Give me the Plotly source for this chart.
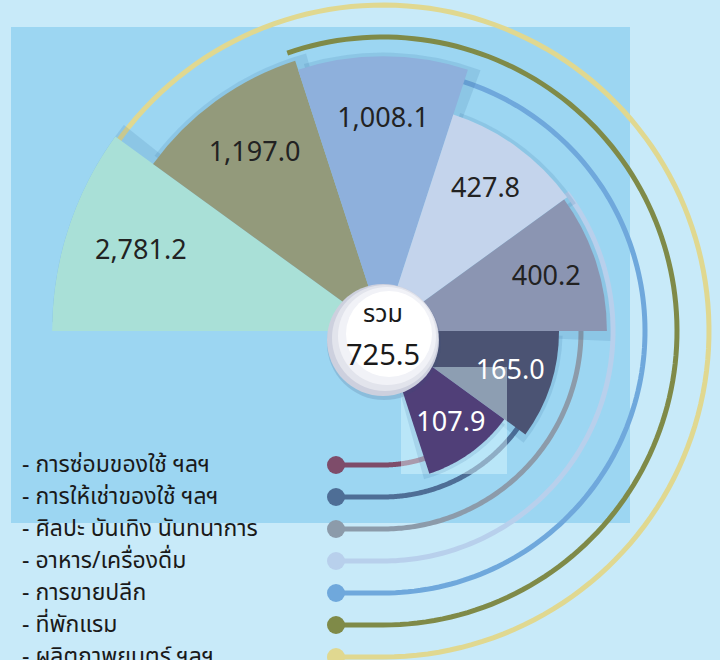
import numpy as np
import plotly.graph_objects as go

# ---------------- data ----------------
categories = [
    "ผลิตภาพยนตร์ ฯลฯ",
    "ที่พักแรม",
    "การขายปลีก",
    "อาหาร/เครื่องดื่ม",
    "ศิลปะ บันเทิง นันทนาการ",
    "การให้เช่าของใช้ ฯลฯ",
    "การซ่อมของใช้ ฯลฯ",
]
values = [2781.2, 1197.0, 1008.1, 427.8, 400.2, 165.0, 107.9]
value_labels = ["2,781.2", "1,197.0", "1,008.1", "427.8", "400.2", "165.0", "107.9"]
total_title = "รวม"
total_value = "725.5"

# ---------------- styling ----------------
bar_colors = ["#A9E0D7", "#939A7B", "#8EB0DC", "#C4D4EC", "#8B95B2", "#4B5373", "#503F78"]
label_colors = ["#222222", "#222222", "#222222", "#222222", "#222222", "#FFFFFF", "#FFFFFF"]
line_colors = ["#E0D890", "#7F8A48", "#6FA8DC", "#B8D0EC", "#8C9BAA", "#4E6E96", "#7E4C6A"]

FONT = "Noto Sans Thai, Noto Sans, DejaVu Sans, sans-serif"
W, H = 720, 660
R = 331                    # pixel radius of the polar subplot
CX, CY = 383, R            # pixel centre of the fan
STEP = 36                  # angular width of each wedge
SECTOR = [-83, 180]
HI = np.log10(max(values)) + 0.002
LO = 0.862
BASE = 10 ** LO
ROW0, ROWSTEP = 465, 32.0  # legend rows
DOT_X = 336
SHADOW = "rgba(40,95,150,0.13)"


def px(x):
    return x / W


def py(y):
    return 1 - y / H


def to_polar(x, y):
    dx, dy = x - CX, CY - y
    rp = np.hypot(dx, dy)
    return 10 ** (LO + rp / R * (HI - LO)), np.degrees(np.arctan2(dy, dx))


n = len(values)
theta = [180 - STEP / 2 - STEP * k for k in range(n)]
logv = np.log10(values)
label_r = 10 ** (LO + 0.77 * (logv - LO))
shadow_r = [v * 1.07 for v in values]
main = list(range(n - 1))
top = n - 1

fig = go.Figure()
# shadows + wedges (all but the last one)
fig.add_trace(go.Barpolar(
    r=[shadow_r[i] for i in main], theta=[theta[i] - 2 for i in main],
    width=[STEP + 1] * len(main), base=BASE,
    marker=dict(color=SHADOW, line=dict(width=0)), hoverinfo="skip",
))
fig.add_trace(go.Barpolar(
    r=[values[i] for i in main], theta=[theta[i] for i in main],
    width=[STEP] * len(main), base=BASE,
    marker=dict(color=[bar_colors[i] for i in main], line=dict(width=0)),
    hoverinfo="skip",
))

# translucent highlight box (lies between the wedges)
bx0, bx1, by0, by1 = 401, 507, 367, 474
edge = []
for t in np.linspace(0, 1, 30):
    edge.append((bx0 + t * (bx1 - bx0), by0))
for t in np.linspace(0, 1, 30):
    edge.append((bx1, by0 + t * (by1 - by0)))
for t in np.linspace(0, 1, 30):
    edge.append((bx1 - t * (bx1 - bx0), by1))
for t in np.linspace(0, 1, 30):
    edge.append((bx0, by1 - t * (by1 - by0)))
pr, pt = zip(*[to_polar(x, y) for x, y in edge])
fig.add_trace(go.Scatterpolar(
    r=list(pr), theta=list(pt), mode="lines", fill="toself",
    fillcolor="rgba(222,250,255,0.45)", line=dict(width=0), hoverinfo="skip",
))


# last wedge drawn above the box (filled polar polygon from its value)
def wedge(value, centre, width):
    arc = list(np.linspace(centre - width / 2, centre + width / 2, 50))
    return [BASE] + [value] * len(arc) + [BASE], [centre - width / 2] + arc + [centre + width / 2]


sr, st = wedge(shadow_r[top], theta[top] - 2, STEP + 1)
fig.add_trace(go.Scatterpolar(r=sr, theta=st, mode="lines", fill="toself",
                              fillcolor=SHADOW, line=dict(width=0), hoverinfo="skip"))
wr, wt = wedge(values[top], theta[top], STEP)
fig.add_trace(go.Scatterpolar(r=wr, theta=wt, mode="lines", fill="toself",
                              fillcolor=bar_colors[top], line=dict(width=0), hoverinfo="skip"))

fig.add_trace(go.Scatterpolar(
    r=label_r, theta=theta, mode="text", text=value_labels,
    textfont=dict(size=27, color=label_colors, family=FONT), hoverinfo="skip",
))

shapes = []
# inner background panel
shapes.append(dict(type="rect", xref="paper", yref="paper",
                   x0=px(11), x1=px(630), y0=py(523), y1=py(27),
                   fillcolor="#9CD6F2", line=dict(width=0), layer="below"))

annotations = []
for k in range(n):
    j = n - 1 - k
    yj = ROW0 + ROWSTEP * j
    rr = yj - CY
    end = 180 - STEP * (k + 1) + 1
    ang = np.radians(np.linspace(-90, end, 120))
    pts = [(DOT_X, yj)] + [(CX + rr * np.cos(a), CY - rr * np.sin(a)) for a in ang]
    path = "M " + " L ".join(f"{px(x):.5f},{py(y):.5f}" for x, y in pts)
    shapes.append(dict(type="path", xref="paper", yref="paper", path=path,
                       line=dict(color=line_colors[k], width=5), layer="below"))
    shapes.append(dict(type="circle", xref="paper", yref="paper",
                       x0=px(DOT_X - 9), x1=px(DOT_X + 9), y0=py(yj + 9), y1=py(yj - 9),
                       fillcolor=line_colors[k], line=dict(width=0), layer="below"))
    annotations.append(dict(xref="paper", yref="paper", x=px(20), y=py(yj),
                            xanchor="left", yanchor="middle", showarrow=False,
                            text="- " + categories[k],
                            font=dict(size=23, color="#1A1A1A", family=FONT)))

# centre badge (layered to fake a soft gradient)
BX, BY = 383, 340
for dx, dy, rad, col in [(1, 3, 57, "rgba(60,80,120,0.18)"), (0, 0, 56, "#CDD0DE"),
                         (2, -2, 53, "#E2E4EC"), (4, -4, 49, "#F1F2F7"),
                         (6, -6, 43, "#FFFFFF")]:
    shapes.append(dict(type="circle", xref="paper", yref="paper",
                       x0=px(BX + dx - rad), x1=px(BX + dx + rad),
                       y0=py(BY + dy + rad), y1=py(BY + dy - rad),
                       fillcolor=col, line=dict(width=0), layer="above"))

annotations.append(dict(xref="paper", yref="paper", x=px(BX), y=py(314),
                        showarrow=False, text=total_title,
                        font=dict(size=25, color="#1A1A1A", family=FONT)))
annotations.append(dict(xref="paper", yref="paper", x=px(BX), y=py(356),
                        showarrow=False, text=total_value,
                        font=dict(size=29, color="#1A1A1A", family=FONT)))

fig.update_layout(
    width=W, height=H, margin=dict(l=0, r=0, t=0, b=0),
    paper_bgcolor="#C8EAF9", plot_bgcolor="#C8EAF9",
    showlegend=False,
    polar=dict(
        domain=dict(x=[px(CX - R), px(CX + R)],
                    y=[py(R * (1 - np.sin(np.radians(SECTOR[0])))), 1]),
        sector=SECTOR,
        barmode="overlay",
        bgcolor="rgba(0,0,0,0)",
        radialaxis=dict(type="log", range=[LO, HI], visible=False),
        angularaxis=dict(visible=False, rotation=0, direction="counterclockwise"),
    ),
    shapes=shapes,
    annotations=annotations,
)

fig.write_html(
    "out.html",
    config={"displayModeBar": False},
    post_script="document.body.style.margin='0px';document.body.style.background='#C8EAF9';",
)
